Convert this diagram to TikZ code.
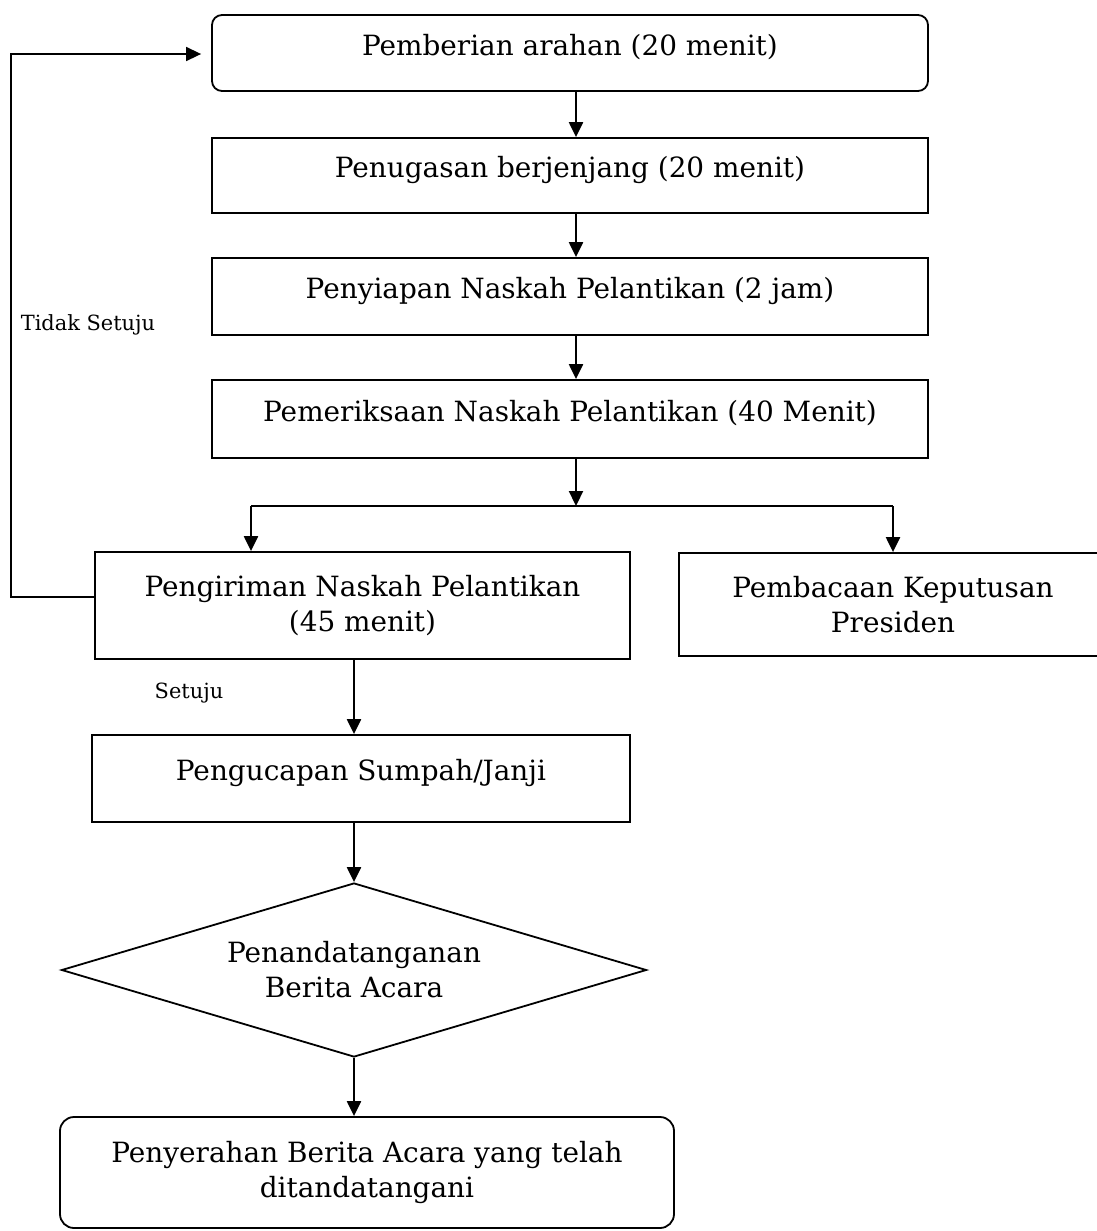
\documentclass[tikz,border=0pt]{standalone}
\usepackage{fontspec}
\setmainfont{DejaVu Serif}
\usetikzlibrary{shapes.geometric,arrows.meta}
\newcommand\mainfnt{\fontsize{28}{35}\selectfont}
\newcommand\smallfnt{\fontsize{21}{24}\selectfont}
\begin{document}
\begin{tikzpicture}[x=1bp,y=-1bp,
  procbox/.style={draw, line width=1.8bp, inner sep=0pt, align=center, font=\mainfnt},
  single/.style={text height=22bp, text depth=18bp},
  arr/.style={line width=2.2bp, -{Triangle[length=15bp,width=14bp]}},
  plainline/.style={line width=2.2bp},
  fbline/.style={line width=1.6bp, -{Triangle[length=15bp,width=14bp]}}]
\useasboundingbox (0,0) rectangle (1097,1231);

\node[procbox, rounded corners=10bp, minimum width=716bp, minimum height=76bp, single] (b1) at (570,53) {Pemberian arahan (20 menit)};
\node[procbox, minimum width=716bp, minimum height=75bp, single] (b2) at (570,175.5) {Penugasan berjenjang (20 menit)};
\node[procbox, minimum width=716bp, minimum height=77bp, single] (b3) at (570,296.5) {Penyiapan Naskah Pelantikan (2 jam)};
\node[procbox, minimum width=716bp, minimum height=78bp, single] (b4) at (570,419) {Pemeriksaan Naskah Pelantikan (40 Menit)};
\node[procbox, minimum width=535bp, minimum height=107bp] (b5) at (362.5,605.5) {Pengiriman Naskah Pelantikan\\(45 menit)};
\node[procbox, minimum width=428bp, minimum height=103bp] (b6) at (893,604.5) {Pembacaan Keputusan\\Presiden};
\node[procbox, minimum width=538bp, minimum height=87bp, single] (b7) at (361,778.5) {Pengucapan Sumpah/Janji};
\node[procbox, diamond, aspect=3.36, minimum width=585bp, minimum height=174bp] (d) at (354,970) {Penandatanganan\\Berita Acara};
\node[procbox, rounded corners=14bp, minimum width=614bp, minimum height=111bp] (b8) at (367,1172.5) {Penyerahan Berita Acara yang telah\\ditandatangani};

\node[font=\smallfnt] (ns) at (88,325) {Tidak Setuju};
\node[font=\smallfnt] (s) at (189,693) {Setuju};

\coordinate (ax) at (576,0);
\coordinate (j) at (576,506);
\coordinate (jl) at (251,506);
\coordinate (jr) at (893,506);
\coordinate (fl) at (11,0);
\coordinate (bx) at (354,0);

\draw[arr] (b1.south -| ax) -- (b2.north -| ax);
\draw[arr] (b2.south -| ax) -- (b3.north -| ax);
\draw[arr] (b3.south -| ax) -- (b4.north -| ax);
\draw[arr] (b4.south -| ax) -- (j);
\draw[plainline] (jl) -- (jr);
\draw[arr] (jl) -- (b5.north -| jl);
\draw[arr] (jr) -- (b6.north -| jr);
\draw[fbline, shorten >=10bp] ([yshift=8.5bp]b5.west) -- ([yshift=8.5bp]b5.west -| fl) -- ([yshift=-1bp]b1.west -| fl) -- ([yshift=-1bp]b1.west);
\draw[arr] (b5.south -| bx) -- (b7.north -| bx);
\draw[arr] (b7.south -| bx) -- (d.north);
\draw[arr] (d.south) -- (b8.north -| bx);
\end{tikzpicture}
\end{document}
